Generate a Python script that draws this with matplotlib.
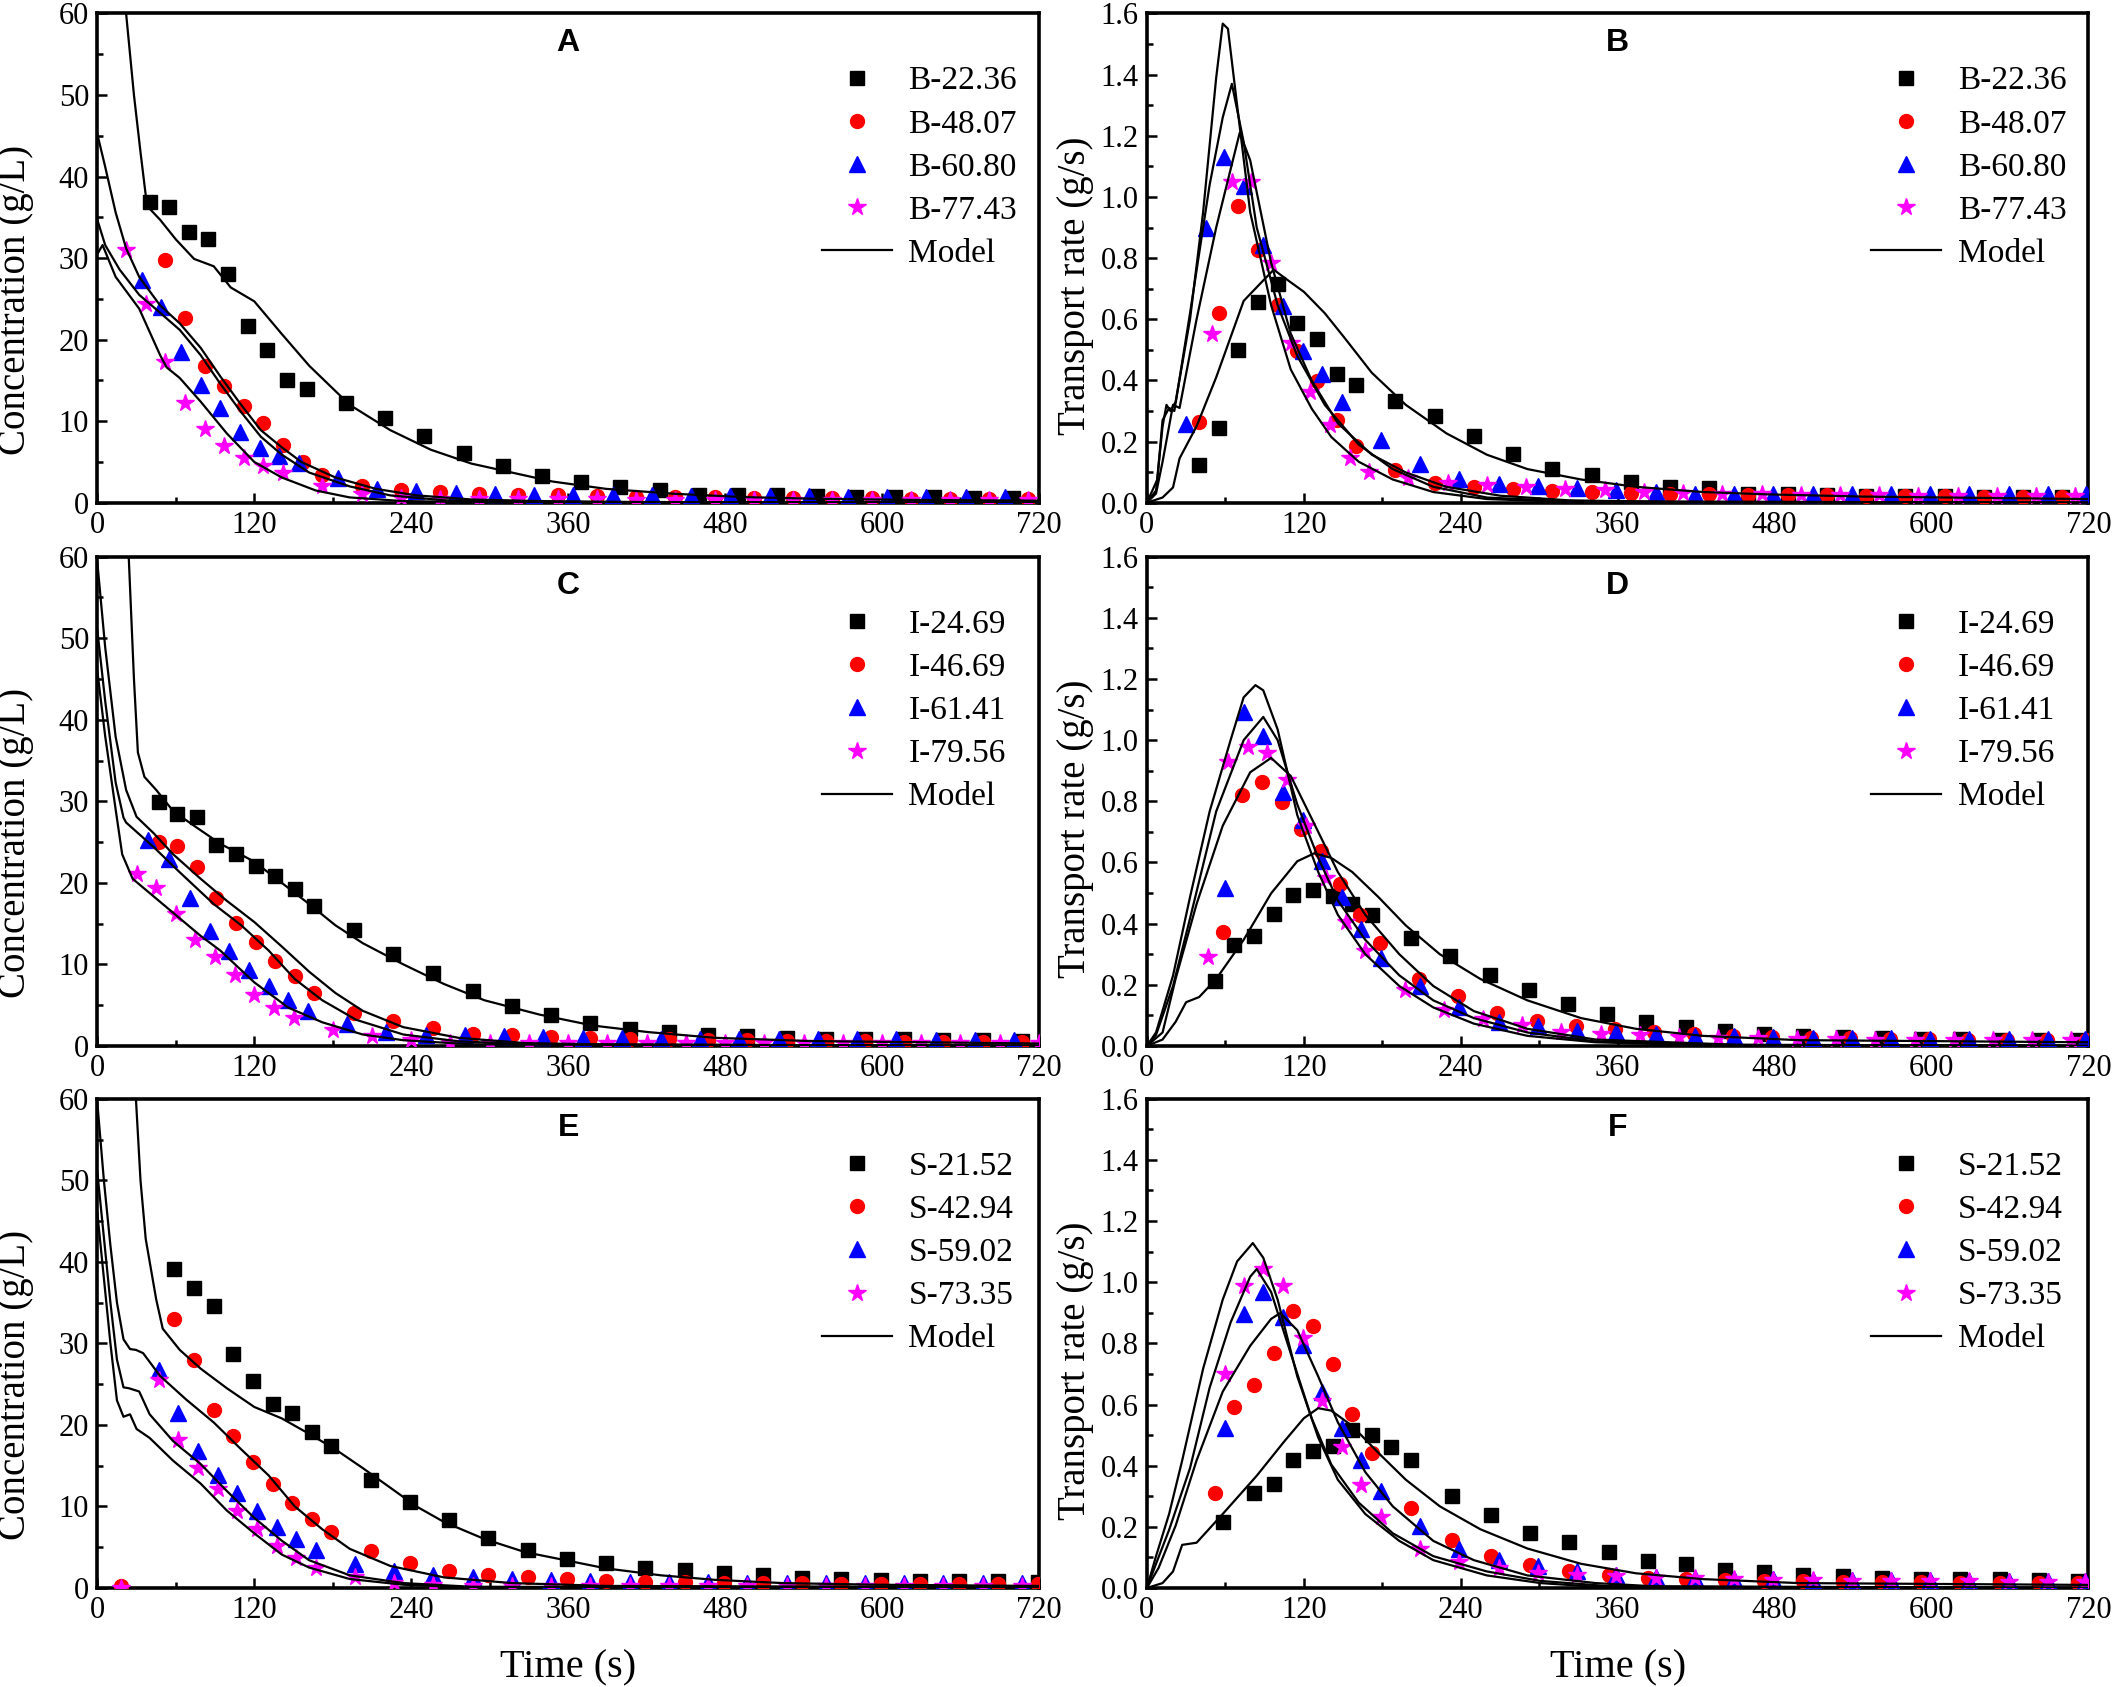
import matplotlib
matplotlib.use("Agg")
import matplotlib.pyplot as plt
from matplotlib.ticker import MultipleLocator, FormatStrFormatter

# ---- panel A : concentration, B series ----
a_t_sq = [40, 55, 70, 85, 100, 115, 130, 145, 160, 190, 220, 250, 280, 310, 340, 370, 400, 430, 460, 490, 520, 550, 580, 610, 640, 670, 700]
a_sq = [36.9, 36.3, 33.2, 32.4, 28.0, 21.7, 18.7, 15.0, 13.9, 12.2, 10.4, 8.2, 6.1, 4.5, 3.3, 2.5, 1.9, 1.5, 1.0, 1.0, 0.9, 0.8, 0.7, 0.7, 0.65, 0.6, 0.6]
a_t_ci = [52, 67, 82, 97, 112, 127, 142, 157, 172, 202, 232, 262, 292, 322, 352, 382, 412, 442, 472, 502, 532, 562, 592, 622, 652, 682, 712]
a_ci = [29.8, 22.6, 16.8, 14.3, 11.9, 9.8, 7.1, 5.0, 3.4, 2.0, 1.5, 1.3, 1.1, 1.0, 0.9, 0.8, 0.75, 0.7, 0.65, 0.6, 0.6, 0.55, 0.55, 0.5, 0.5, 0.5, 0.5]
a_t_tr = [34, 49, 64, 79, 94, 109, 124, 139, 154, 184, 214, 244, 274, 304, 334, 364, 394, 424, 454, 484, 514, 544, 574, 604, 634, 664, 694]
a_tr = [27.3, 24.0, 18.5, 14.4, 11.6, 8.7, 6.7, 5.7, 4.9, 3.0, 1.7, 1.4, 1.2, 1.1, 1.0, 1.0, 0.9, 0.9, 0.8, 0.8, 0.8, 0.8, 0.75, 0.75, 0.7, 0.7, 0.7]
a_t_st = [22, 37, 52, 67, 82, 97, 112, 127, 142, 172, 202, 232, 262, 292, 322, 352, 382, 412, 442, 472, 502, 532, 562, 592, 622, 652, 682, 712]
a_st = [31.0, 24.4, 17.2, 12.2, 9.0, 7.0, 5.5, 4.5, 3.6, 2.0, 1.1, 0.6, 0.5, 0.45, 0.4, 0.4, 0.4, 0.35, 0.35, 0.35, 0.3, 0.3, 0.3, 0.3, 0.3, 0.3, 0.3, 0.3]
a_m1_t = [15, 22, 28, 33, 38, 48, 60, 74, 89, 102, 120, 141, 162, 193, 224, 255, 286, 317, 348, 389, 441, 493, 545, 620, 720]
a_m1 = [90, 60, 50, 43, 36.4, 34.7, 32.3, 29.9, 29.0, 26.4, 24.7, 20.7, 16.8, 12.0, 8.9, 6.5, 4.8, 3.7, 2.6, 1.7, 1.1, 0.7, 0.5, 0.35, 0.25]
a_m2_t = [0, 6, 14, 22, 32, 48, 63, 79, 94, 110, 125, 141, 156, 182, 213, 244, 286, 338, 400, 500, 720]
a_m2 = [45.2, 41.2, 35.6, 31.2, 27.7, 24.2, 22.0, 19.0, 15.5, 12.0, 8.9, 6.8, 5.0, 3.1, 1.7, 0.9, 0.4, 0.2, 0.1, 0.05, 0.02]
a_m3_t = [0, 6, 17, 32, 48, 63, 79, 94, 110, 125, 141, 162, 193, 224, 265, 320, 720]
a_m3 = [34.7, 31.6, 28.6, 25.5, 23.3, 21.2, 18.1, 14.6, 11.1, 8.1, 5.9, 3.7, 2.0, 0.9, 0.3, 0.1, 0.0]
a_m4_t = [0, 4, 14, 32, 48, 53, 63, 79, 99, 120, 141, 167, 193, 234, 300, 720]
a_m4 = [30.5, 31.6, 27.7, 23.8, 18.1, 16.6, 15.3, 12.4, 8.5, 5.0, 3.1, 1.5, 0.65, 0.2, 0.05, 0.0]

# ---- panel B : transport rate, B series ----
b_t_sq = [40, 55, 70, 85, 100, 115, 130, 145, 160, 190, 220, 250, 280, 310, 340, 370, 400, 430, 460, 490, 520, 550, 580, 610, 640, 670, 700]
b_sq = [0.122, 0.244, 0.50, 0.657, 0.716, 0.588, 0.535, 0.421, 0.386, 0.332, 0.283, 0.218, 0.159, 0.11, 0.091, 0.067, 0.052, 0.047, 0.029, 0.027, 0.025, 0.023, 0.022, 0.021, 0.02, 0.02, 0.02]
b_t_ci = [40, 55, 70, 85, 100, 115, 130, 145, 160, 190, 220, 250, 280, 310, 340, 370, 400, 430, 460, 490, 520, 550, 580, 610, 640, 670, 700]
b_ci = [0.264, 0.62, 0.969, 0.826, 0.648, 0.495, 0.398, 0.27, 0.186, 0.108, 0.064, 0.052, 0.044, 0.038, 0.035, 0.032, 0.03, 0.028, 0.026, 0.025, 0.024, 0.023, 0.022, 0.021, 0.02, 0.02, 0.02]
b_t_tr = [30, 45, 59, 74, 89, 104, 119, 134, 149, 179, 209, 239, 269, 299, 329, 359, 389, 419, 449, 479, 509, 539, 569, 599, 629, 659, 689, 718]
b_tr = [0.256, 0.90, 1.132, 1.036, 0.844, 0.643, 0.495, 0.422, 0.328, 0.204, 0.128, 0.078, 0.062, 0.055, 0.047, 0.041, 0.035, 0.03, 0.03, 0.028, 0.028, 0.027, 0.027, 0.027, 0.027, 0.027, 0.027, 0.027]
b_t_st = [50, 65, 80, 95, 110, 125, 140, 155, 170, 200, 230, 260, 290, 320, 350, 380, 410, 440, 470, 500, 530, 560, 590, 620, 650, 680, 710]
b_st = [0.553, 1.05, 1.05, 0.785, 0.524, 0.361, 0.254, 0.145, 0.099, 0.081, 0.064, 0.058, 0.05, 0.045, 0.04, 0.035, 0.032, 0.03, 0.028, 0.026, 0.025, 0.024, 0.023, 0.022, 0.022, 0.021, 0.021]
b_m1_t = [0, 7, 12, 15, 18, 22, 33, 43, 53, 58, 62, 69, 79, 95, 110, 126, 141, 162, 188, 219, 260, 320, 720]
b_m1 = [0, 0.04, 0.25, 0.32, 0.30, 0.33, 0.60, 0.95, 1.39, 1.567, 1.55, 1.30, 0.95, 0.646, 0.436, 0.308, 0.215, 0.134, 0.076, 0.035, 0.012, 0.003, 0.0]
b_m2_t = [0, 8, 12, 17, 21, 33, 48, 58, 65, 74, 84, 100, 115, 136, 162, 188, 219, 260, 320, 720]
b_m2 = [0, 0.076, 0.27, 0.31, 0.30, 0.62, 1.04, 1.26, 1.37, 1.18, 0.90, 0.646, 0.48, 0.32, 0.19, 0.11, 0.052, 0.017, 0.005, 0.0]
b_m3_t = [0, 7, 12, 20, 25, 38, 53, 64, 71, 79, 95, 110, 126, 146, 172, 198, 229, 270, 322, 400, 720]
b_m3 = [0, 0.03, 0.134, 0.32, 0.31, 0.60, 0.90, 1.09, 1.21, 1.12, 0.785, 0.553, 0.40, 0.26, 0.157, 0.099, 0.052, 0.023, 0.008, 0.002, 0.0]
b_m4_t = [0, 12, 20, 25, 38, 53, 74, 89, 97, 108, 120, 136, 151, 172, 198, 229, 260, 291, 332, 374, 425, 477, 549, 720]
b_m4 = [0, 0.017, 0.05, 0.145, 0.25, 0.41, 0.66, 0.727, 0.762, 0.727, 0.69, 0.62, 0.54, 0.425, 0.32, 0.227, 0.157, 0.11, 0.076, 0.052, 0.035, 0.027, 0.02, 0.012]

# ---- panel C : concentration, I series ----
c_t_sq = [47, 61, 76, 91, 106, 121, 136, 151, 166, 196, 226, 257, 287, 317, 347, 377, 407, 437, 467, 497, 527, 557, 587, 617, 647, 677, 707]
c_sq = [29.9, 28.5, 28.1, 24.7, 23.5, 22.1, 20.9, 19.2, 17.2, 14.2, 11.3, 9.0, 6.7, 4.9, 3.8, 2.8, 2.1, 1.7, 1.4, 1.2, 1.0, 0.9, 0.8, 0.8, 0.7, 0.7, 0.6]
c_t_ci = [47, 61, 76, 91, 106, 121, 136, 151, 166, 196, 226, 257, 287, 317, 347, 377, 407, 437, 467, 497, 527, 557, 587, 617, 647, 677, 707]
c_ci = [25.0, 24.5, 21.9, 18.1, 15.1, 12.8, 10.4, 8.6, 6.5, 4.0, 3.0, 2.2, 1.5, 1.3, 1.1, 1.0, 0.9, 0.8, 0.7, 0.7, 0.6, 0.6, 0.6, 0.5, 0.5, 0.5, 0.5]
c_t_tr = [39, 55, 71, 86, 101, 116, 131, 146, 161, 191, 221, 251, 281, 311, 341, 371, 401, 431, 461, 491, 521, 551, 581, 611, 641, 671, 701]
c_tr = [25.3, 22.9, 18.1, 14.1, 11.7, 9.3, 7.3, 5.6, 4.3, 2.7, 1.7, 1.4, 1.3, 1.2, 1.1, 1.0, 1.0, 0.9, 0.9, 0.8, 0.8, 0.8, 0.8, 0.8, 0.7, 0.7, 0.7]
c_t_st = [30, 45, 60, 75, 90, 105, 120, 135, 150, 180, 210, 240, 270, 300, 330, 360, 390, 420, 450, 480, 510, 540, 570, 600, 630, 660, 690, 720]
c_st = [21.1, 19.4, 16.2, 13.0, 10.9, 8.7, 6.3, 4.6, 3.4, 1.9, 1.2, 0.7, 0.4, 0.35, 0.3, 0.3, 0.3, 0.3, 0.3, 0.3, 0.3, 0.3, 0.3, 0.3, 0.3, 0.3, 0.3, 0.3]
c_m1_t = [20, 24, 28, 31, 36, 45, 58, 74, 94, 120, 141, 162, 182, 203, 234, 265, 296, 338, 379, 421, 472, 545, 720]
c_m1 = [90, 60, 45, 36, 33, 31.4, 28.8, 27.0, 24.8, 22.6, 20.0, 17.4, 14.8, 12.6, 10.0, 7.6, 5.6, 3.85, 2.5, 1.7, 1.0, 0.6, 0.3]
c_m2_t = [0, 6, 14, 22, 30, 43, 58, 79, 99, 120, 141, 162, 182, 203, 234, 276, 327, 400, 720]
c_m2 = [59.3, 48.9, 37.9, 31.4, 28.1, 26.1, 23.5, 20.5, 17.8, 15.2, 12.2, 9.1, 6.5, 4.3, 2.3, 1.0, 0.35, 0.15, 0.05]
c_m3_t = [0, 6, 14, 20, 22, 43, 63, 89, 110, 131, 151, 172, 198, 234, 276, 327, 720]
c_m3 = [51, 42.3, 32.3, 28.0, 27.4, 24.4, 21.3, 17.4, 14.8, 11.7, 8.2, 5.6, 3.2, 1.4, 0.57, 0.2, 0.0]
c_m4_t = [0, 6, 14, 19, 27, 53, 79, 94, 120, 146, 172, 203, 234, 286, 720]
c_m4 = [46, 38, 29, 23.5, 20.5, 17.0, 13.5, 11.7, 7.8, 4.7, 2.9, 1.4, 0.7, 0.2, 0.0]

# ---- panel D : transport rate, I series ----
d_t_sq = [52, 67, 82, 97, 112, 127, 142, 157, 172, 202, 232, 262, 292, 322, 352, 382, 412, 442, 472, 502, 532, 562, 592, 622, 652, 682, 712]
d_sq = [0.213, 0.33, 0.359, 0.431, 0.495, 0.51, 0.49, 0.464, 0.427, 0.353, 0.295, 0.231, 0.182, 0.138, 0.105, 0.079, 0.062, 0.05, 0.038, 0.033, 0.029, 0.026, 0.023, 0.022, 0.021, 0.021, 0.02]
d_t_ci = [58, 73, 88, 103, 118, 133, 148, 163, 178, 208, 238, 268, 298, 328, 358, 388, 418, 448, 478, 508, 538, 568, 598, 628, 658, 688, 718]
d_ci = [0.373, 0.822, 0.862, 0.798, 0.711, 0.636, 0.531, 0.429, 0.338, 0.219, 0.163, 0.108, 0.082, 0.065, 0.054, 0.044, 0.038, 0.033, 0.03, 0.027, 0.025, 0.023, 0.022, 0.021, 0.02, 0.02, 0.02]
d_t_tr = [60, 74, 89, 104, 119, 134, 149, 164, 179, 209, 239, 269, 299, 329, 359, 389, 419, 449, 479, 509, 539, 569, 599, 629, 659, 689, 717]
d_tr = [0.516, 1.093, 1.014, 0.831, 0.738, 0.604, 0.487, 0.382, 0.289, 0.196, 0.126, 0.079, 0.065, 0.05, 0.044, 0.038, 0.034, 0.031, 0.029, 0.027, 0.026, 0.025, 0.024, 0.024, 0.023, 0.023, 0.023]
d_t_st = [47, 62, 77, 92, 107, 122, 137, 152, 167, 197, 227, 257, 287, 317, 347, 377, 407, 437, 467, 497, 527, 557, 587, 617, 647, 677, 707]
d_st = [0.291, 0.93, 0.979, 0.957, 0.869, 0.72, 0.548, 0.406, 0.312, 0.182, 0.117, 0.089, 0.068, 0.047, 0.038, 0.035, 0.03, 0.027, 0.025, 0.023, 0.022, 0.021, 0.02, 0.02, 0.02, 0.02, 0.02]
d_m1_t = [0, 7, 20, 33, 48, 64, 74, 83, 89, 100, 115, 131, 146, 167, 193, 219, 250, 291, 343, 420, 720]
d_m1 = [0, 0.044, 0.23, 0.487, 0.767, 1.0, 1.14, 1.18, 1.163, 1.035, 0.755, 0.569, 0.429, 0.30, 0.196, 0.126, 0.073, 0.033, 0.012, 0.003, 0]
d_m2_t = [0, 7, 20, 33, 53, 74, 89, 100, 115, 131, 146, 167, 193, 219, 250, 291, 343, 450, 720]
d_m2 = [0, 0.036, 0.196, 0.417, 0.767, 1.0, 1.076, 1.0, 0.79, 0.615, 0.476, 0.347, 0.231, 0.149, 0.091, 0.044, 0.015, 0.003, 0]
d_m3_t = [0, 12, 22, 38, 58, 79, 95, 110, 126, 146, 167, 193, 219, 250, 291, 343, 450, 720]
d_m3 = [0, 0.044, 0.22, 0.464, 0.72, 0.895, 0.942, 0.883, 0.744, 0.569, 0.429, 0.30, 0.196, 0.114, 0.056, 0.021, 0.004, 0]
d_m4_t = [0, 12, 22, 30, 40, 53, 74, 95, 115, 128, 141, 157, 177, 198, 224, 255, 291, 332, 374, 425, 498, 720]
d_m4 = [0, 0.021, 0.079, 0.143, 0.16, 0.219, 0.347, 0.499, 0.604, 0.63, 0.615, 0.569, 0.487, 0.394, 0.30, 0.219, 0.149, 0.091, 0.056, 0.033, 0.019, 0.012]

# ---- panel E : concentration, S series ----
e_t_sq = [59, 74, 89, 104, 119, 134, 149, 164, 179, 209, 239, 269, 299, 329, 359, 389, 419, 449, 479, 509, 539, 569, 599, 629, 659, 689, 719]
e_sq = [39.1, 36.8, 34.6, 28.7, 25.4, 22.6, 21.4, 19.1, 17.4, 13.3, 10.6, 8.3, 6.1, 4.7, 3.6, 3.1, 2.5, 2.25, 1.8, 1.55, 1.2, 1.1, 1.0, 0.9, 0.85, 0.8, 0.75]
e_t_ci = [18, 59, 74, 89, 104, 119, 134, 149, 164, 179, 209, 239, 269, 299, 329, 359, 389, 419, 449, 479, 509, 539, 569, 599, 629, 659, 689, 719]
e_ci = [0.2, 33.0, 27.9, 21.8, 18.6, 15.4, 12.8, 10.4, 8.4, 6.9, 4.5, 3.1, 2.1, 1.55, 1.3, 1.1, 0.85, 0.75, 0.7, 0.6, 0.55, 0.55, 0.5, 0.5, 0.5, 0.5, 0.45, 0.45]
e_t_tr = [47, 62, 77, 92, 107, 122, 137, 152, 167, 197, 227, 257, 287, 317, 347, 377, 407, 437, 467, 497, 527, 557, 587, 617, 647, 677, 707]
e_tr = [26.7, 21.4, 16.8, 13.8, 11.6, 9.4, 7.5, 6.0, 4.6, 3.0, 2.1, 1.55, 1.3, 1.1, 1.0, 0.85, 0.75, 0.7, 0.7, 0.65, 0.65, 0.6, 0.6, 0.6, 0.6, 0.6, 0.6]
e_t_st = [18, 47, 62, 77, 92, 107, 122, 137, 152, 167, 197, 227, 257, 287, 317, 347, 377, 407, 437, 467, 497, 527, 557, 587, 617, 647, 677, 707]
e_st = [0.05, 25.5, 18.2, 14.7, 12.1, 9.5, 7.2, 5.2, 3.7, 2.5, 1.3, 0.6, 0.4, 0.3, 0.3, 0.3, 0.3, 0.3, 0.3, 0.3, 0.3, 0.3, 0.3, 0.3, 0.3, 0.3, 0.3, 0.3]
e_m1_t = [25, 29.5, 33, 37, 45, 50, 63, 79, 99, 120, 141, 162, 182, 203, 224, 244, 265, 296, 327, 358, 389, 431, 472, 524, 596, 720]
e_m1 = [90, 60, 50, 42.8, 35.4, 31.8, 29.2, 26.9, 24.5, 22.2, 20.8, 18.9, 17.0, 14.7, 12.3, 10.0, 8.1, 6.0, 4.4, 3.4, 2.4, 1.55, 1.0, 0.6, 0.4, 0.25]
e_m2_t = [0, 5, 10, 15, 20, 25, 29.5, 35, 48, 68, 89, 110, 131, 151, 172, 193, 224, 265, 317, 389, 720]
e_m2 = [59.5, 50, 42, 35, 30.5, 29.3, 29.2, 28.8, 26.0, 23.1, 20.3, 17.0, 13.8, 10.0, 7.2, 4.8, 2.7, 1.3, 0.6, 0.25, 0.1]
e_m3_t = [0, 5, 10, 15, 20, 24, 32, 40, 58, 79, 99, 120, 141, 162, 193, 234, 286, 720]
e_m3 = [51, 43, 35, 28, 24.6, 24.5, 24.1, 21.3, 18.0, 15.2, 11.9, 8.6, 5.8, 3.4, 1.55, 0.6, 0.15, 0.0]
e_m4_t = [0, 5, 10, 15, 20, 25, 30, 40, 58, 79, 99, 120, 141, 162, 193, 234, 286, 720]
e_m4 = [46, 38, 30, 23, 21, 21.3, 19.5, 18.4, 15.6, 12.8, 9.5, 6.7, 4.1, 2.5, 1.1, 0.4, 0.05, 0.0]

# ---- panel F : transport rate, S series ----
f_t_sq = [58, 82, 97, 112, 127, 142, 157, 172, 187, 202, 233, 263, 293, 323, 353, 383, 412, 442, 472, 502, 532, 562, 592, 622, 652, 682, 712]
f_sq = [0.217, 0.31, 0.339, 0.417, 0.448, 0.464, 0.517, 0.50, 0.46, 0.417, 0.30, 0.239, 0.179, 0.151, 0.119, 0.089, 0.079, 0.06, 0.051, 0.044, 0.038, 0.033, 0.029, 0.029, 0.028, 0.026, 0.023]
f_t_ci = [52, 67, 82, 97, 112, 127, 142, 157, 172, 202, 233, 263, 293, 323, 353, 383, 412, 442, 472, 502, 532, 562, 592, 622, 652, 682, 712]
f_ci = [0.31, 0.592, 0.664, 0.767, 0.905, 0.858, 0.732, 0.57, 0.442, 0.26, 0.156, 0.104, 0.075, 0.056, 0.044, 0.031, 0.029, 0.026, 0.024, 0.022, 0.02, 0.019, 0.018, 0.017, 0.016, 0.015, 0.015]
f_t_tr = [60, 74, 89, 104, 119, 134, 149, 164, 179, 209, 239, 269, 299, 329, 359, 389, 419, 449, 479, 509, 539, 569, 599, 629, 659, 689, 717]
f_tr = [0.523, 0.895, 0.968, 0.886, 0.795, 0.64, 0.523, 0.417, 0.317, 0.202, 0.129, 0.091, 0.073, 0.054, 0.044, 0.035, 0.032, 0.03, 0.028, 0.027, 0.026, 0.025, 0.025, 0.024, 0.024, 0.023, 0.023]
f_t_st = [60, 74, 89, 104, 119, 134, 149, 164, 179, 209, 239, 269, 299, 329, 359, 389, 419, 449, 479, 509, 539, 569, 599, 629, 659, 689, 717]
f_st = [0.699, 0.989, 1.043, 0.989, 0.818, 0.611, 0.461, 0.336, 0.232, 0.129, 0.085, 0.066, 0.048, 0.041, 0.038, 0.034, 0.031, 0.029, 0.027, 0.025, 0.024, 0.023, 0.022, 0.022, 0.021, 0.021, 0.02]
f_m1_t = [0, 7, 17, 27, 43, 58, 69, 81, 89, 100, 115, 131, 146, 167, 193, 219, 260, 301, 343, 720]
f_m1 = [0, 0.104, 0.242, 0.417, 0.717, 0.943, 1.068, 1.128, 1.08, 0.943, 0.692, 0.492, 0.354, 0.242, 0.154, 0.091, 0.041, 0.016, 0.004, 0]
f_m2_t = [0, 7, 17, 33, 48, 64, 79, 84, 95, 110, 126, 141, 162, 188, 219, 260, 301, 353, 720]
f_m2 = [0, 0.079, 0.19, 0.392, 0.655, 0.868, 1.018, 1.043, 0.968, 0.767, 0.555, 0.404, 0.279, 0.179, 0.104, 0.054, 0.023, 0.006, 0]
f_m3_t = [0, 9, 22, 38, 58, 79, 95, 102, 115, 131, 146, 167, 188, 219, 250, 291, 343, 394, 720]
f_m3 = [0, 0.066, 0.204, 0.417, 0.642, 0.792, 0.88, 0.899, 0.843, 0.692, 0.542, 0.379, 0.267, 0.154, 0.091, 0.041, 0.016, 0.004, 0]
f_m4_t = [0, 12, 20, 27, 38, 58, 84, 105, 120, 131, 141, 157, 177, 198, 224, 255, 291, 332, 374, 425, 498, 720]
f_m4 = [0, 0.016, 0.054, 0.141, 0.148, 0.242, 0.367, 0.479, 0.555, 0.588, 0.58, 0.53, 0.442, 0.354, 0.267, 0.192, 0.129, 0.079, 0.048, 0.029, 0.016, 0.01]

labels_b = ["B-22.36", "B-48.07", "B-60.80", "B-77.43"]
labels_i = ["I-24.69", "I-46.69", "I-61.41", "I-79.56"]
labels_s = ["S-21.52", "S-42.94", "S-59.02", "S-73.35"]

plt.rcParams["font.family"] = "Liberation Serif"

fig = plt.figure(figsize=(21.16, 16.87), dpi=100)

left_x = [0.046, 0.542]
row_y = [0.702, 0.380, 0.0587]
w, h = 0.445, 0.290

markers = [("s", "black", 9.5), ("o", "red", 10), ("^", "blue", 11), ("*", "magenta", 13)]


def panel(ax, letter, pts, models, labels, conc, bottom):
    for (t, y), (m, c, ms), lab in zip(pts, markers, labels):
        ax.plot(t, y, ls="none", marker=m, color=c, ms=ms, mec=c, label=lab, zorder=3)
    for i, (t, y) in enumerate(models):
        ax.plot(t, y, color="black", lw=1.6, zorder=4, label="Model" if i == 0 else None)
    ax.set_xlim(0, 720)
    ax.xaxis.set_major_locator(MultipleLocator(120))
    ax.xaxis.set_minor_locator(MultipleLocator(60))
    if conc:
        ax.set_ylim(0, 60)
        ax.yaxis.set_major_locator(MultipleLocator(10))
        ax.yaxis.set_minor_locator(MultipleLocator(5))
        ax.set_ylabel("Concentration (g/L)", fontsize=28)
        ax.yaxis.set_label_coords(-0.067, 0.415)
    else:
        ax.set_ylim(0, 1.6)
        ax.yaxis.set_major_locator(MultipleLocator(0.2))
        ax.yaxis.set_minor_locator(MultipleLocator(0.1))
        ax.yaxis.set_major_formatter(FormatStrFormatter("%.1f"))
        ax.set_ylabel("Transport rate (g/s)", fontsize=28)
        ax.yaxis.set_label_coords(-0.056, 0.444)
    if bottom:
        ax.set_xlabel("Time (s)", fontsize=29, labelpad=17)
    ax.tick_params(which="both", direction="in", labelsize=22, width=1.8)
    ax.tick_params(which="major", length=7, pad=6)
    ax.tick_params(which="minor", length=4)
    for s in ax.spines.values():
        s.set_linewidth(2.6)
    ax.text(0.5, 0.94, letter, transform=ax.transAxes, ha="center", va="center",
            fontsize=23, fontweight="bold", family="Liberation Sans")
    ax.legend(loc="upper left", bbox_to_anchor=(0.755, 0.92), frameon=False,
              fontsize=24, handlelength=2.1, handletextpad=0.5, labelspacing=0.38,
              borderaxespad=0, numpoints=1)


specs = [
    ("A", [(a_t_sq, a_sq), (a_t_ci, a_ci), (a_t_tr, a_tr), (a_t_st, a_st)],
     [(a_m1_t, a_m1), (a_m2_t, a_m2), (a_m3_t, a_m3), (a_m4_t, a_m4)], labels_b, True),
    ("B", [(b_t_sq, b_sq), (b_t_ci, b_ci), (b_t_tr, b_tr), (b_t_st, b_st)],
     [(b_m1_t, b_m1), (b_m2_t, b_m2), (b_m3_t, b_m3), (b_m4_t, b_m4)], labels_b, False),
    ("C", [(c_t_sq, c_sq), (c_t_ci, c_ci), (c_t_tr, c_tr), (c_t_st, c_st)],
     [(c_m1_t, c_m1), (c_m2_t, c_m2), (c_m3_t, c_m3), (c_m4_t, c_m4)], labels_i, True),
    ("D", [(d_t_sq, d_sq), (d_t_ci, d_ci), (d_t_tr, d_tr), (d_t_st, d_st)],
     [(d_m1_t, d_m1), (d_m2_t, d_m2), (d_m3_t, d_m3), (d_m4_t, d_m4)], labels_i, False),
    ("E", [(e_t_sq, e_sq), (e_t_ci, e_ci), (e_t_tr, e_tr), (e_t_st, e_st)],
     [(e_m1_t, e_m1), (e_m2_t, e_m2), (e_m3_t, e_m3), (e_m4_t, e_m4)], labels_s, True),
    ("F", [(f_t_sq, f_sq), (f_t_ci, f_ci), (f_t_tr, f_tr), (f_t_st, f_st)],
     [(f_m1_t, f_m1), (f_m2_t, f_m2), (f_m3_t, f_m3), (f_m4_t, f_m4)], labels_s, False),
]

for k, (letter, pts, models, labels, conc) in enumerate(specs):
    r, col = divmod(k, 2)
    ax = fig.add_axes([left_x[col], row_y[r], w, h])
    panel(ax, letter, pts, models, labels, conc, r == 2)

fig.savefig("out.png", dpi=100)
